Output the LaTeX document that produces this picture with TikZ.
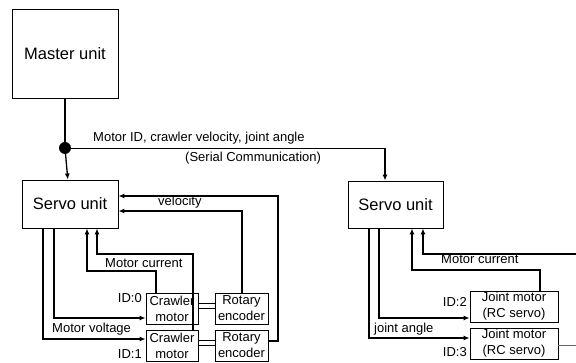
\documentclass[tikz,border=0pt]{standalone}
\usepackage{fontspec}
\setmainfont{Liberation Sans}
\usetikzlibrary{arrows.meta}

\begin{document}
\begin{tikzpicture}[x=1pt, y=-1pt,
    unit/.style = {draw, line width=0.9pt, inner sep=0pt,
      font=\fontsize{16.5}{18}\selectfont},
    part/.style = {draw, line width=0.9pt, inner sep=0pt, align=center,
      minimum height=31pt, font=\fontsize{13}{16}\selectfont},
    lbl/.style = {inner sep=0pt, font=\fontsize{13}{15}\selectfont},
    sig/.style = {line width=1.3pt, -{Latex[length=6pt,width=5pt]}},
    fb/.style = {line width=1.8pt, -{Latex[length=6pt,width=5pt]}}]
    \useasboundingbox (0,0) rectangle (576,363);

    % units
    \node[unit, minimum width=106pt, minimum height=89pt] (master) at (65,53.5) {Master unit};
    \node[unit, minimum width=96pt, minimum height=48pt] (servoL) at (70,204) {Servo unit};
    \node[unit, minimum width=95pt, minimum height=47pt] (servoR) at (395.5,204.5) {Servo unit};

    % crawler side
    \node[part, minimum width=52pt] (crawl0) at (172,308.5) {Crawler\\motor};
    \node[part, minimum width=52pt] (crawl1) at (172,345.5) {Crawler\\motor};
    \node[part, minimum width=53pt] (enc0) at (241.5,308.5) {Rotary\\encoder};
    \node[part, minimum width=53pt] (enc1) at (241.5,345.5) {Rotary\\encoder};

    % joint side
    \node[part, minimum width=88pt] (joint2) at (514,306.5) {Joint motor\\(RC servo)};
    \node[part, minimum width=88pt] (joint3) at (514,343.5) {Joint motor\\(RC servo)};

    % serial bus
    \coordinate (turn) at (385,148);
    \draw[line width=1.4pt] (master.south) -- (65,148);
    \draw[line width=0.8pt] (65,148) -- (turn);
    \node[circle, fill, inner sep=0pt, minimum size=12pt] (bus) at (65,148) {};
    \draw[sig] (bus) -- (servoL);
    \draw[sig] (turn) -- (turn |- servoR.north);
    \node[lbl, anchor=base west] (cmd) at (93,142) {Motor ID, crawler velocity, joint angle};
    \node[lbl, anchor=base west] (serial) at (185,162) {(Serial Communication)};

    % crawler links
    \draw[line width=0.8pt] (crawl0.east |- 0,303) -- (enc0.west |- 0,303);
    \draw[line width=0.8pt] (crawl0.east |- 0,308) -- (enc0.west |- 0,308);
    \draw[line width=0.8pt] (crawl1.east |- 0,340) -- (enc1.west |- 0,340);
    \draw[line width=0.8pt] (crawl1.east |- 0,345) -- (enc1.west |- 0,345);

    \draw[fb] (enc1.east |- 0,341) -- (278,341) -- (278,196) -- (servoL.east |- 0,196);
    \draw[fb] (enc0.north -| 242,0) -- (242,211) -- (servoL.east |- 0,211);
    \node[lbl, anchor=base west] (vel) at (158,206) {velocity};

    \draw[sig] (crawl0.north -| 156,0) -- (156,271) -- (87,271) -- (servoL.south -| 87,0);
    \draw[sig] (crawl1.north -| 193,0) -- (193,254) -- (97,254) -- (servoL.south -| 97,0);
    \node[lbl, anchor=base west] (curL) at (105,268) {Motor current};

    \draw[sig] (servoL.south -| 54,0) -- (54,318) -- (crawl0.west |- 0,318);
    \draw[sig] (servoL.south -| 43,0) -- (43,339) -- (crawl1.west |- 0,339);
    \node[lbl, anchor=base west] (volt) at (52,333) {Motor voltage};
    \node[lbl, anchor=base east] (id0) at (142,303) {ID:0};
    \node[lbl, anchor=base east] (id1) at (142,359) {ID:1};

    % joint links
    \draw[sig] (servoR.south -| 379,0) -- (379,318) -- (joint2.west |- 0,318);
    \draw[sig] (servoR.south -| 369,0) -- (369,338) -- (joint3.west |- 0,338);
    \node[lbl, anchor=base west] (ang) at (374,333) {joint angle};

    \coordinate (edge1) at (576,254);
    \coordinate (edge2) at (576,345);
    \draw[sig] (joint2.north -| 540,0) -- (540,270) -- (412,270) -- (servoR.south -| 412,0);
    \draw[sig] (edge1) -- (423,254) -- (servoR.south -| 423,0);
    \node[lbl, anchor=base west] (curR) at (441,264) {Motor current};
    \draw[line width=0.6pt, black!60] (joint3.east |- edge2) -- (edge2);
    \node[lbl, anchor=base east] (id2) at (467,307) {ID:2};
    \node[lbl, anchor=base east] (id3) at (467,357) {ID:3};
\end{tikzpicture}
\end{document}
